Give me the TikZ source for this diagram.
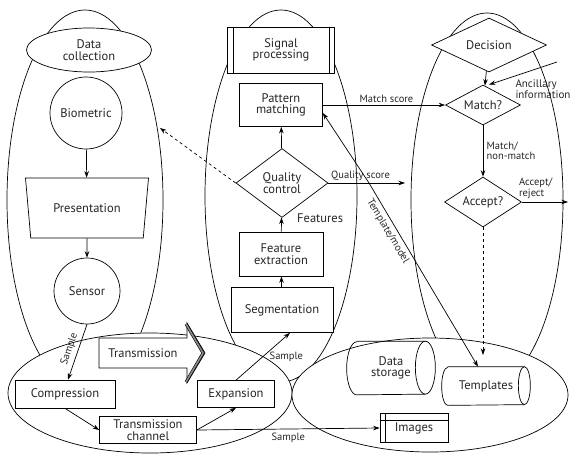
\documentclass[tikz,border=0pt]{standalone}
\usepackage{fontspec}
\setmainfont{PT Sans}
\usetikzlibrary{shapes.geometric, positioning, arrows.meta}
\tikzset{>={Stealth[length=6.5pt, width=4.5pt]}}
\tikzset{
  box/.style={draw, fill=white, align=center, inner sep=2pt},
  dia/.style={diamond, draw, fill=white, align=center, inner sep=0pt, aspect=1.6},
  lbl/.style={font=\fontsize{10.5}{10.5}\selectfont, align=left},
  con/.style={->}
}

\begin{document}
\begin{tikzpicture}[x=1pt, y=-1pt, line width=0.7pt, text=black!85,
    font=\fontsize{12.5}{11.5}\selectfont]
    \useasboundingbox (0,0) rectangle (577,453);
    % subsystems
    \draw (85,200) ellipse [x radius=78pt, y radius=190pt];
    \draw (281,196) ellipse [x radius=76pt, y radius=186pt];
    \draw (487,200) ellipse [x radius=76pt, y radius=187pt];
    \filldraw[fill=white] (150,393) ellipse [x radius=142pt, y radius=60pt];
    \filldraw[fill=white] (430,395) ellipse [x radius=138pt, y radius=57pt];

    % data collection
    \node[box, ellipse, minimum width=125pt, minimum height=44pt] (dc) at (89,50) {Data\\collection};
    \node[box, circle, minimum size=72pt] (bio) at (86,113) {Biometric};
    \node[box, trapezium, shape border rotate=180, trapezium angle=68, trapezium stretches body,
        minimum width=123pt, minimum height=60pt] (pres) at (87,208) {Presentation};
    \node[box, circle, minimum size=66pt] (sens) at (87,291) {Sensor};

    % transmission
    \filldraw[fill=white] (99,338) -- (187,338) -- (187,323) -- (205,353) -- (187,383) -- (187,368) -- (99,368) -- cycle;
    \draw[double=black!45, double distance=1.6pt, line width=0.6pt, line join=miter]
        (186,324) -- (203,353) -- (186,382);
    \node (trans) at (143,353) {Transmission};
    \node[box, minimum width=100pt, minimum height=28pt] (comp) at (65,394) {Compression};
    \node[box, minimum width=97pt, minimum height=27pt, inner sep=1pt] (chan) at (148,430) {Transmission\\channel};
    \node[box, minimum width=77pt, minimum height=27pt] (expa) at (236,394) {Expansion};

    % signal processing
    \node[box, minimum width=107pt, minimum height=46pt] (sp) at (281,50) {Signal\\processing};
    \draw ([xshift=6pt]sp.north west) -- ([xshift=6pt]sp.south west);
    \draw ([xshift=-6pt]sp.north east) -- ([xshift=-6pt]sp.south east);
    \node[box, minimum width=83pt, minimum height=43pt] (pm) at (281,105) {Pattern\\matching};
    \node[dia, minimum width=92pt, minimum height=69pt] (qc) at (282,183) {Quality\\control};
    \node[box, minimum width=84pt, minimum height=44pt] (fe) at (281,254) {Feature\\extraction};
    \node[box, minimum width=102pt, minimum height=45pt] (seg) at (282,310) {Segmentation};

    % decision
    \node[dia, minimum width=115pt, minimum height=54pt] (dec) at (489,45) {Decision};
    \node[dia, minimum width=75pt, minimum height=40pt] (match) at (483,105) {Match?};
    \node[dia, minimum width=77pt, minimum height=50pt] (acc) at (483,202) {Accept?};
    \node[lbl, font=\fontsize{11}{10.5}\selectfont] (anctxt) at (543,89) {Ancillary\\information};

    % data storage
    \node[minimum width=88pt, minimum height=53pt, align=center] (ds) at (391,368) {Data\\storage};
    \draw ([xshift=10pt]ds.north west) -- ([xshift=-10pt]ds.north east)
        arc[start angle=90, end angle=-90, x radius=10pt, y radius=26.5pt]
        -- ([xshift=10pt]ds.south west)
        arc[start angle=270, end angle=90, x radius=10pt, y radius=26.5pt];
    \draw ([xshift=-10pt]ds.north east) arc[start angle=90, end angle=270, x radius=10pt, y radius=26.5pt];
    \node[minimum width=88pt, minimum height=38pt] (tpl) at (486,386) {Templates};
    \draw ([xshift=6pt]tpl.north west) -- ([xshift=-6pt]tpl.north east)
        arc[start angle=90, end angle=-90, x radius=6pt, y radius=19pt]
        -- ([xshift=6pt]tpl.south west)
        arc[start angle=270, end angle=90, x radius=6pt, y radius=19pt];
    \draw ([xshift=-6pt]tpl.north east) arc[start angle=90, end angle=270, x radius=6pt, y radius=19pt];
    \node[box, minimum width=68pt, minimum height=29pt] (img) at (414,428) {Images};
    \draw ([xshift=6pt]img.north west) -- ([xshift=6pt]img.south west);
    \draw ([yshift=-7pt]img.north west) -- ([yshift=-7pt]img.north east);

    % free ends
    \coordinate (coll) at (160,128);
    \coordinate (qs) at (405,183);
    \coordinate (qsplit) at (369,183);
    \coordinate (anc) at (557,62);
    \coordinate (out) at (568,202);
    \coordinate (st) at (483,355);

    % connectors
    \draw[con] (bio) -- (pres);
    \draw[con] (pres) -- (sens);
    \draw[con] (sens.south) -- node[lbl, sloped, above] {Sample} ([xshift=3pt]comp.north);
    \draw[con] (comp.south) -- (chan.west);
    \draw[con] (chan.east) -- (expa.south);
    \draw[con] (chan.east) -- node[lbl, below] {Sample} (img.west);
    \draw[con] (expa.north) -- node[lbl, right=3pt] {Sample} ([xshift=8pt]seg.south);
    \draw[con] (seg) -- (fe);
    \draw[con] (fe) -- node[lbl, pos=0.95, right=12pt, font=\fontsize{12.5}{12}\selectfont] {Features} (qc);
    \draw[con] (qc) -- (pm);
    \draw[con, dashed] (qc.west) -- (coll);
    \draw[con] (qc.east) -- node[lbl, pos=0.42, above=-1pt] {Quality score} (qs);
    \draw[con] (qsplit) -- ([yshift=-8pt]pm.east);
    \draw[con] (qsplit) -- node[lbl, sloped, below, pos=0.24] {Template/model} ([xshift=-8pt]tpl.north);
    \draw[con] (pm.east) -- node[lbl, pos=0.52, above=-1pt] {Match score} (match.west);
    \draw[con] (dec) -- (match);
    \draw[con] (anc) -- ([xshift=6pt]match.north);
    \draw[con] (match) -- node[lbl, right] {Match/\\non-match} (acc);
    \draw[con] (acc.east) -- node[lbl, pos=0.3, above] {Accept/\\reject} (out);
    \draw[con, dashed] (acc.south) -- (st);
\end{tikzpicture}
\end{document}
